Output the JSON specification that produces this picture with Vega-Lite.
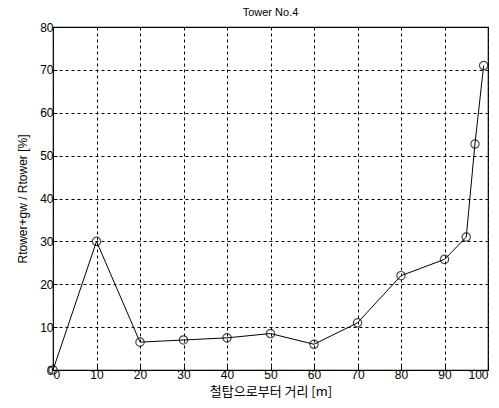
{
  "$schema": "https://vega.github.io/schema/vega-lite/v6.json",
  "autosize": "none",
  "width": 435,
  "height": 343,
  "padding": {"left": 53, "top": 27, "right": 11, "bottom": 38},
  "background": "white",
  "title": {"text": "Tower No.4", "fontSize": 11, "font": "Liberation Sans", "fontWeight": "normal", "color": "black", "offset": 3},
  "config": {
    "view": {"stroke": "black", "strokeWidth": 1.2},
    "axis": {
      "labelFont": "Liberation Sans", "labelFontSize": 12, "labelColor": "black",
      "titleFont": "Liberation Sans", "titleFontSize": 12, "titleColor": "black", "titleFontWeight": "normal",
      "domain": false, "tickColor": "black", "tickSize": -4,
      "grid": true, "gridColor": "black", "gridDash": [3, 3], "gridWidth": 1, "gridOpacity": 1
    }
  },
  "data": {"values": [
    {"d": 0, "r": 0},
    {"d": 10, "r": 30},
    {"d": 20, "r": 6.5},
    {"d": 30, "r": 7},
    {"d": 40, "r": 7.5},
    {"d": 50, "r": 8.5},
    {"d": 60, "r": 6},
    {"d": 70, "r": 11},
    {"d": 80, "r": 22},
    {"d": 90, "r": 25.8},
    {"d": 95, "r": 31},
    {"d": 97, "r": 52.7},
    {"d": 99, "r": 71}
  ]},
  "encoding": {
    "x": {"field": "d", "type": "quantitative", "scale": {"domain": [0, 100], "nice": false},
      "axis": {"values": [0,10,20,30,40,50,60,70,80,90,100], "title": "철탑으로부터 거리 [m]", "titleFont": "Noto Sans CJK KR", "titleFontSize": 13, "titlePadding": 5, "labelPadding": 3}},
    "y": {"field": "r", "type": "quantitative", "scale": {"domain": [0, 80], "nice": false},
      "axis": {"values": [0,10,20,30,40,50,60,70,80], "title": "Rtower+gw / Rtower [%]", "titlePadding": 10, "labelPadding": 4}}
  },
  "layer": [
    {"mark": {"type": "line", "color": "black", "strokeWidth": 1}},
    {"mark": {"type": "point", "shape": "circle", "filled": false, "color": "black", "size": 70, "strokeWidth": 1.2}}
  ]
}
